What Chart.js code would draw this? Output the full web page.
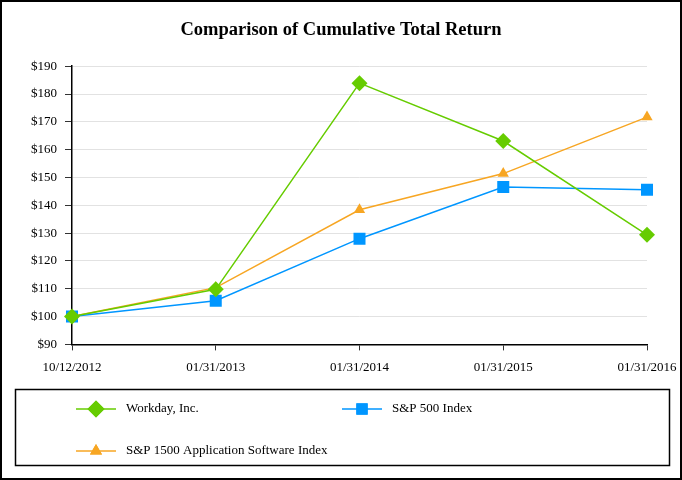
<!DOCTYPE html>
<html>
<head>
<meta charset="utf-8">
<script src="https://cdn.jsdelivr.net/npm/chart.js@4/dist/chart.umd.min.js"></script>
<style>
html,body{margin:0;padding:0;background:#fff;}
#wrap{position:relative;width:682px;height:480px;}
</style>
</head>
<body>
<div id="wrap"><canvas id="c" width="682" height="480"></canvas></div>
<script>
const categories = ["10/12/2012", "01/31/2013", "01/31/2014", "01/31/2015", "01/31/2016"];
const workday = [100, 109.8, 183.9, 163.1, 129.4];
const sp500 = [100, 105.7, 128.0, 146.6, 145.6];
const sp1500App = [100, 110.4, 138.4, 151.4, 171.7];
const yTicks = [90, 100, 110, 120, 130, 140, 150, 160, 170, 180, 190];

const GREEN = '#66cc00', BLUE = '#0096ff', ORANGE = '#f7a623';
const FONT = '"Liberation Serif", "Times New Roman", serif';

const legendItems = [
  {label: 'Workday, Inc.', color: GREEN, style: 'rectRot', r: 8.5, x: 76, y: 409},
  {label: 'S&P 500 Index', color: BLUE, style: 'rect', r: 8, x: 342, y: 409},
  {label: 'S&P 1500 Application Software Index', color: ORANGE, style: 'triangle', r: 7, x: 76, y: 451}
];

const frame = {
  id: 'frame',
  afterDraw(chart) {
    const ctx = chart.ctx;
    ctx.save();
    ctx.strokeStyle = '#000';
    ctx.lineWidth = 2;
    ctx.strokeRect(1, 1, 680, 478);
    ctx.lineWidth = 1.5;
    ctx.strokeRect(15.5, 389.5, 654, 76);
    legendItems.forEach(it => {
      ctx.strokeStyle = it.color;
      ctx.lineWidth = 1.5;
      ctx.beginPath();
      ctx.moveTo(it.x, it.y);
      ctx.lineTo(it.x + 40, it.y);
      ctx.stroke();
      ctx.fillStyle = it.color;
      Chart.helpers.drawPoint(ctx, {pointStyle: it.style, radius: it.r, borderWidth: 0}, it.x + 20, it.y);
      ctx.fill();
      ctx.fillStyle = '#000';
      ctx.font = '13px ' + FONT;
      ctx.textBaseline = 'middle';
      ctx.textAlign = 'left';
      ctx.fillText(it.label, it.x + 50, it.y);
    });
    ctx.restore();
  }
};

function ds(label, data, color, style, r) {
  return {
    label, data,
    borderColor: color, backgroundColor: color,
    borderWidth: 1.5, tension: 0,
    pointStyle: style, pointRadius: r, pointHoverRadius: r,
    pointBackgroundColor: color, pointBorderColor: color, pointBorderWidth: 0
  };
}

new Chart(document.getElementById('c'), {
  type: 'line',
  data: {
    labels: categories,
    datasets: [
      ds('Workday, Inc.', workday, GREEN, 'rectRot', 8),
      ds('S&P 500 Index', sp500, BLUE, 'rect', 8.5),
      ds('S&P 1500 Application Software Index', sp1500App, ORANGE, 'triangle', 6.5)
    ]
  },
  options: {
    responsive: false,
    animation: false,
    devicePixelRatio: 1,
    layout: {padding: {top: 11, left: 0, right: 0, bottom: 96}},
    plugins: {
      legend: {display: false},
      tooltip: {enabled: false},
      title: {
        display: true,
        text: 'Comparison of Cumulative Total Return',
        color: '#000',
        font: {family: FONT, size: 18.5, weight: 'bold'},
        padding: {top: 8, bottom: 25}
      }
    },
    scales: {
      x: {
        type: 'category',
        offset: false,
        afterFit(scale) { scale.paddingRight = 35; scale.paddingLeft = 0; },
        grid: {drawOnChartArea: false, drawTicks: true, tickLength: 6, tickColor: '#333'},
        border: {color: '#000', width: 1.5},
        ticks: {color: '#000', font: {family: FONT, size: 13}, maxRotation: 0, padding: 9}
      },
      y: {
        min: 90, max: 190,
        afterBuildTicks(scale) { scale.ticks = yTicks.map(v => ({value: v})); },
        afterFit(scale) { scale.width = 72; },
        grid: {color: '#e2e2e2', lineWidth: 1, drawTicks: true, tickLength: 7, tickColor: '#333'},
        border: {color: '#000', width: 1.5},
        ticks: {color: '#000', font: {family: FONT, size: 13}, padding: 8, callback: v => '$' + v}
      }
    }
  },
  plugins: [frame]
});
</script>
</body>
</html>
